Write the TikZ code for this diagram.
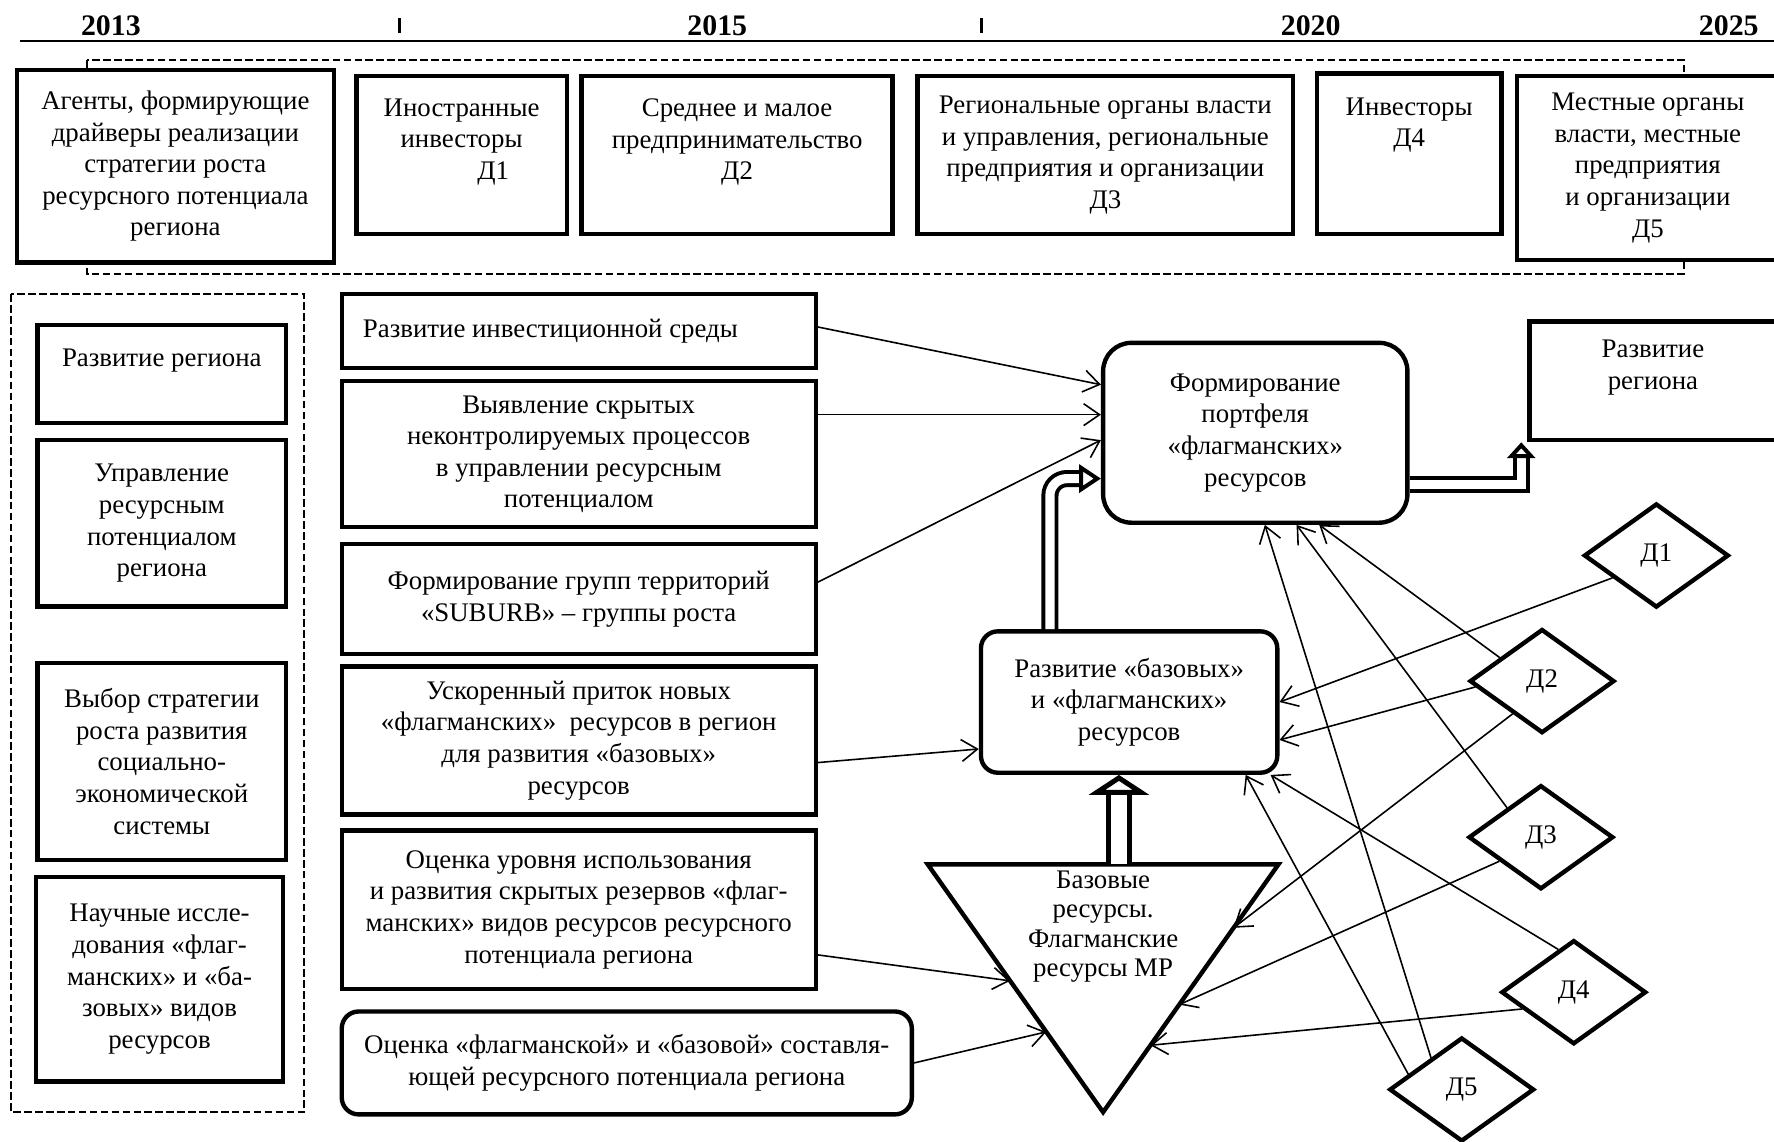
\documentclass[tikz,border=0pt]{standalone}
\usepackage{fontspec}
\setmainfont{Liberation Serif}
\usetikzlibrary{calc,arrows.meta,shapes.geometric}

\begin{document}
\begin{tikzpicture}[x=0.02cm,y=-0.02cm]
     \tikzstyle{box}=[draw, line width=2.2pt, fill=white, align=center, inner sep=0pt,
       font=\fontsize{13.5}{15.9}\selectfont]
     \tikzstyle{rbox}=[box, rounded corners=0.5cm]
     \tikzstyle{agent}=[draw, diamond, line width=2.2pt, fill=white, inner sep=0pt,
       minimum width=2.56cm, minimum height=1.84cm, font=\fontsize{13.5}{15.9}\selectfont]
     \tikzstyle{link}=[line width=0.8pt, -{Straight Barb[length=8pt,width=11pt]}]
     \tikzstyle{pipe}=[line width=2pt, double, double distance=4.6pt,
       -{Triangle[open,length=11pt,width=14pt]}]
     \tikzstyle{frame}=[line width=1pt, dash pattern=on 3.8pt off 1.7pt]
     \tikzstyle{year}=[font=\fontsize{15}{18}\selectfont\bfseries]

     \path[use as bounding box, clip] (0,0) rectangle (1568,1009);

     \draw[line width=1pt] (18,36) -- (1568,36);
     \node[year] (y2013) at (98,23) {2013};
     \node[year] (y2015) at (634,23) {2015};
     \node[year] (y2020) at (1158.5,23) {2020};
     \node[year] (y2025) at (1528,23) {2025};
     \draw[line width=1.2pt] (353,16) -- (353,29.5);
     \draw[line width=1.2pt] (867.5,16) -- (867.5,29.5);

     \draw[frame] (77,53) rectangle (1488,242);
     \draw[frame] (10,260) rectangle (269,983);

     \node[box, minimum width=5.6cm, minimum height=3.4cm] (agents) at (155,147)
       {Агенты, формирующие\\драйверы реализации\\стратегии роста\\ресурсного потенциала\\региона};
     \node[box, minimum width=3.72cm, minimum height=2.8cm] (foreign) at (408,137)
       {Иностранные\\инвесторы\\\hspace*{1.12cm}Д1\\~};
     \node[box, minimum width=5.5cm, minimum height=2.8cm] (sme) at (651.5,137)
       {Среднее и малое\\предпринимательство\\Д2\\~};
     \node[box, minimum width=6.64cm, minimum height=2.8cm] (regauth) at (977,137)
       {Региональные органы власти\\и управления, региональные\\предприятия и организации\\Д3};
     \node[box, minimum width=3.26cm, minimum height=2.84cm] (investors) at (1245.5,136)
       {Инвесторы\\Д4\\~\\~};
     \node[box, minimum width=4.62cm, minimum height=3.26cm] (localauth) at (1456.5,148.5)
       {Местные органы\\власти, местные\\предприятия\\и организации\\Д5};

     \node[box, minimum width=4.4cm, minimum height=1.74cm] (lregion) at (143,330.5)
       {Развитие региона\\~};
     \node[box, minimum width=4.4cm, minimum height=2.94cm] (manage) at (143,462.5)
       {Управление\\ресурсным\\потенциалом\\региона};
     \node[box, minimum width=4.4cm, minimum height=3.48cm] (choice) at (143,673)
       {Выбор стратегии\\роста развития\\социально-\\экономической\\системы};
     \node[box, minimum width=4.36cm, minimum height=3.62cm] (science) at (141,865.5)
       {Научные иссле-\\дования «флаг-\\манских» и «ба-\\зовых» видов\\ресурсов};

     \node[box, minimum width=8.38cm, minimum height=1.3cm] (invenv) at (511.5,292.5)
       {Развитие инвестиционной среды\hspace*{1cm}};
     \node[box, minimum width=8.38cm, minimum height=2.58cm] (reveal) at (511.5,401.5)
       {Выявление скрытых\\неконтролируемых процессов\\в управлении ресурсным\\потенциалом};
     \node[box, minimum width=8.38cm, minimum height=1.94cm] (suburb) at (511.5,529.5)
       {Формирование групп территорий\\«SUBURB» – группы роста};
     \node[box, minimum width=8.38cm, minimum height=2.62cm] (inflow) at (511.5,654.5)
       {Ускоренный приток новых\\«флагманских»\ \ ресурсов в регион\\для развития «базовых»\\ресурсов};
     \node[box, minimum width=8.38cm, minimum height=2.8cm] (assess) at (511.5,804)
       {Оценка уровня использования\\и развития скрытых резервов «флаг-\\манских» видов ресурсов ресурсного\\потенциала региона};
     \node[box, rounded corners=0.3cm, minimum width=10.08cm, minimum height=1.82cm] (evalrnd) at (554,939.5)
       {Оценка «флагманской» и «базовой» составля-\\ющей ресурсного потенциала региона};

     \node[rbox, minimum width=5.38cm, minimum height=3.18cm] (portfolio) at (1109.5,382.5)
       {Формирование\\портфеля\\«флагманских»\\ресурсов};
     \node[box, minimum width=4.36cm, minimum height=2.1cm] (rregion) at (1461,336.5)
       {Развитие\\региона\\~};
     \node[box, rounded corners=0.3cm, minimum width=5.24cm, minimum height=2.5cm] (basic) at (998,620.5)
       {Развитие «базовых»\\и «флагманских»\\ресурсов};

     \coordinate (tl) at (820,764);
     \coordinate (tr) at (1130,764);
     \coordinate (apex) at (975,983);
     \coordinate (ttop) at (989,764);
     \draw[line width=2.2pt, fill=white] (tl) -- (tr) -- (apex) -- cycle;
     \node[align=center, inner sep=0pt, font=\fontsize{13.5}{14.8}\selectfont] (baseres) at (975,819)
       {Базовые\\ресурсы.\\Флагманские\\ресурсы МР};

     \node[agent] (d1) at (1464,491) {Д1};
     \node[agent] (d2) at (1363,602) {Д2};
     \node[agent] (d3) at (1362,740) {Д3};
     \node[agent] (d4) at (1391,877) {Д4};
     \node[agent] (d5) at (1292,963) {Д5};

     \coordinate (tA) at ($(tl)!0.47!(apex)$);
     \coordinate (tB) at ($(tl)!0.676!(apex)$);
     \coordinate (tC) at ($(tr)!0.256!(apex)$);
     \coordinate (tD) at ($(tr)!0.566!(apex)$);
     \coordinate (tE) at ($(tr)!0.73!(apex)$);

     \draw[link] ($(invenv.east)+(0,-3.5)$) -- ($(portfolio.west)+(0,-42.5)$);
     \draw[link] ($(reveal.east)+(0,-35)$) -- ($(portfolio.west)+(0,-16)$);
     \draw[link] ($(suburb.east)+(0,-15)$) -- ($(portfolio.west)+(0,6.5)$);
     \draw[link] ($(inflow.east)+(0,19.5)$) -- ($(basic.west)+(0,41.5)$);
     \draw[link] ($(assess.east)+(0,40)$) -- (tA);
     \draw[link] (evalrnd.east) -- (tB);

     \draw[link] (d1.207) -- (basic.east);
     \draw[link] (d2.185) -- ($(basic.east)+(0,33.5)$);
     \draw[link] (d2.151) -- ($(portfolio.south)+(56.5,0)$);
     \draw[link] (d2.228) -- (tC);
     \draw[link] (d3.139) -- ($(portfolio.south)+(36.5,0)$);
     \draw[link] (d3.210) -- (tD);
     \draw[link] (d4.110) -- ($(basic.south)+(125,0)$);
     \draw[link] (d4.198) -- (tE);
     \draw[link] (d5.164) -- ($(basic.south)+(103,0)$);
     \draw[link] (d5.134) -- ($(portfolio.south)+(8.5,0)$);

     \draw[pipe, rounded corners=0.3cm] ($(basic.north)+(-70,0)$) |- ($(portfolio.west)+(0,40.5)$);
     \draw[pipe, -{Triangle[open,length=8pt,width=14pt]}] ($(portfolio.east)+(0,45.5)$) -| ($(rregion.south west)+(-5.5,0)$);
     \draw[pipe, line width=2.5pt, double distance=8.5pt, -{Triangle[open,length=10pt,width=30pt]}]
       (ttop) -- ($(basic.south)+(-9,0)$);
\end{tikzpicture}
\end{document}
